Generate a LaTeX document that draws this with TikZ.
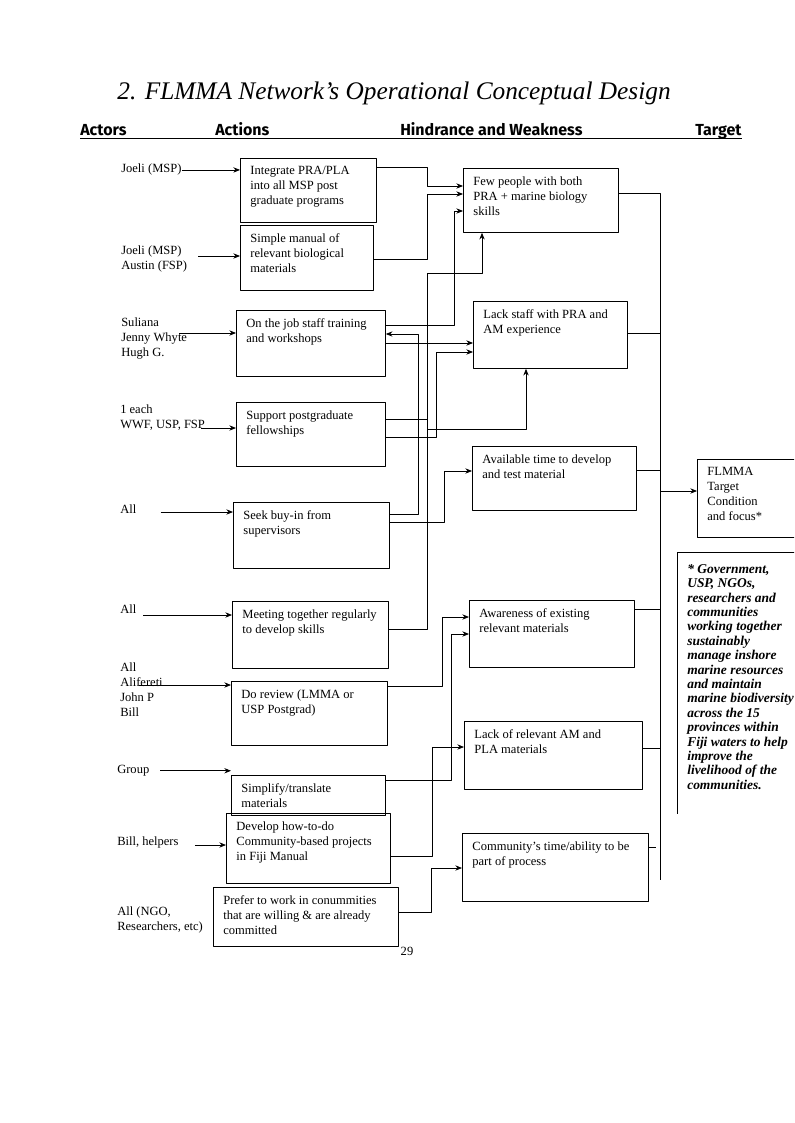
\documentclass[tikz,border=0pt]{standalone}
\usepackage{fontspec}
\setmainfont{Liberation Serif}
\newfontfamily\headfont{Fira Sans}
\usetikzlibrary{arrows.meta}
% box from top-left (x1,y1) to bottom-right (x2,y2), text kept at the top
\newcommand\boxat[6]{%
	\pgfmathsetmacro\bw{0.75*(#4-#2)-15}%
	\pgfmathsetmacro\bh{0.75*(#5-#3)-12}%
	\node[tbox] (#1) at (#2,#3) {\parbox[b][\bh pt][t]{\bw pt}{#6}};}
\begin{document}
\begin{tikzpicture}[x=0.75pt,y=-0.75pt,line join=round,>={Stealth[length=5pt,width=4pt]}]
	\tikzset{every node/.style={font=\fontsize{9.4}{11.25}\selectfont},
		tbox/.style={draw,line width=0.6pt,anchor=north west,inner xsep=7.5pt,inner ysep=6pt},
		actor/.style={anchor=north west,align=left,inner sep=0pt},
		head/.style={anchor=base west,inner sep=0pt,font=\headfont\bfseries\fontsize{12}{14}\selectfont},
		link/.style={line width=0.6pt}}
	\useasboundingbox (0,0) rectangle (794,1123);
	\node[anchor=base,font=\itshape\fontsize{19}{22}\selectfont] (title) at (394,100) {2. FLMMA Network's Operational Conceptual Design};
	%% column heads
	\node[head] (hact) at (80,136) {Actors};
	\node[head] (hacts) at (215,136) {Actions};
	\node[head] (hhind) at (400,136) {Hindrance and Weakness};
	\node[head] (htarg) at (695,136) {Target};
	\draw[line width=0.7pt] ([yshift=-2.2pt]hact.base west) -- ([yshift=-2.2pt]htarg.base east);
	%% actors
	\node[actor] (joeli) at (121,164) {Joeli (MSP)};
	\node[actor] (joelaus) at (121,246) {Joeli (MSP)\\Austin (FSP)};
	\node[actor] (suliana) at (121,318) {Suliana\\Jenny Whyte\\Hugh G.};
	\node[actor] (oneeach) at (120,405) {1 each\\WWF, USP, FSP};
	\node[actor] (allbuy) at (120,505) {All};
	\node[actor] (allmeet) at (120,605) {All};
	\node[actor] (allrev) at (120,663) {All\\Alifereti\\John P\\Bill};
	\node[actor] (group) at (117,765) {Group};
	\node[actor] (billh) at (117,837) {Bill, helpers};
	\node[actor] (allngo) at (117,907) {All (NGO,\\Researchers, etc)};
	%% actions
	\boxat{integ}{240}{158}{376}{222}{Integrate PRA/PLA\\into all MSP post\\graduate programs}
	\boxat{manual}{240}{225}{373}{290}{Simple manual of\\relevant biological\\materials}
	\boxat{train}{236}{310}{385}{376}{On the job staff training\\and workshops}
	\boxat{fellow}{236}{402}{385}{466}{Support postgraduate\\fellowships}
	\boxat{buyin}{233}{502}{389}{568}{Seek buy-in from\\supervisors}
	\boxat{meet}{232}{601}{388}{668}{Meeting together regularly\\to develop skills}
	\boxat{review}{231}{681}{387}{745}{Do review (LMMA or\\USP Postgrad)}
	\boxat{simplify}{231}{775}{385}{815}{Simplify/translate\\materials}
	\boxat{howto}{226}{813}{390}{883}{Develop how-to-do\\Community-based projects\\in Fiji Manual}
	\boxat{prefer}{213}{887}{398}{946}{Prefer to work in conummities\\that are willing \& are already\\committed}
	%% hindrance and weakness
	\boxat{few}{463}{168}{618}{232}{Few people with both\\PRA + marine biology\\skills}
	\boxat{lackstaff}{473}{301}{627}{368}{Lack staff with PRA and\\AM experience}
	\boxat{avail}{472}{446}{636}{510}{Available time to develop\\and test material}
	\boxat{aware}{469}{600}{634}{667}{Awareness of existing\\relevant materials}
	\boxat{lackmat}{464}{721}{642}{789}{Lack of relevant AM and\\PLA materials}
	\boxat{commtime}{462}{833}{648}{901}{Community's time/ability to be\\part of process}
	%% target and note, cut at the page edge
	\begin{scope}
		\clip (0,0) rectangle (794,1123);
		\boxat{target}{697}{459}{830}{537}{FLMMA\\Target\\Condition\\and focus*}
		\node[anchor=north west,inner xsep=7.5pt,inner ysep=9pt,font=\bfseries\itshape\fontsize{10.1}{10.8}\selectfont] (note) at (677,552)
		{\parbox[b][178pt][t]{150pt}{* Government,\\USP, NGOs,\\researchers and\\communities\\working together\\sustainably\\manage inshore\\marine resources\\and maintain\\marine biodiversity\\across the 15\\provinces within\\Fiji waters to help\\improve the\\livelihood of the\\communities.}};
		\draw[link] (note.south west) -- (note.north west) -- (note.north east);
	\end{scope}
	\node (pnum) at (407,951) {29};
	%% actors to actions
	\draw[link,->] (joeli.east) -- (integ.west |- joeli.east);
	\draw[link,->] ([xshift=8pt]joelaus.east |- 0,256) -- (manual.west |- 0,256);
	\draw[link,->] ([xshift=-6pt]suliana.east |- 0,333) -- (train.west |- 0,333);
	\draw[link,->] ([xshift=-3pt]oneeach.east |- 0,428) -- (fellow.west |- 0,428);
	\draw[link,->] ([xshift=18pt]allbuy.east |- 0,512) -- (buyin.west |- 0,512);
	\draw[link,->] ([xshift=5pt]allmeet.east |- 0,615) -- (meet.west |- 0,615);
	\draw[link,->] ([xshift=-18pt]allrev.east |- 0,685) -- (review.west |- 0,685);
	\draw[link,->] ([xshift=8pt]group.east) -- (simplify.north west |- group.east);
	\draw[link,->] ([xshift=12pt]billh.east |- 0,845) -- (howto.west |- 0,845);
	%% actions to hindrance
	\draw[link,->] (integ.east |- 0,167) -- (427,167) |- (few.west |- 0,186);
	\draw[link,->] (manual.east |- 0,259) -- (427,259) |- (few.west |- 0,194);
	\draw[link,->] (train.east |- 0,325) -- (454,325) |- (few.west |- 0,211);
	\draw[link,->] (train.east |- 0,343) -- (lackstaff.west |- 0,343);
	\draw[link,->] (buyin.east |- 0,514) -- (418,514) |- (train.east |- 0,334);
	\draw[link,->] (fellow.east |- 0,437) -- (436,437) |- (lackstaff.west |- 0,352);
	\draw[link,->] (fellow.east |- 0,419) -- (427,419) |- (526,429) -- (lackstaff.south -| 526,0);
	\draw[link,->] (buyin.east |- 0,522) -- (444,522) |- (avail.west |- 0,471);
	\draw[link,->] (meet.east |- 0,629) -- (427,629) -- (427,273) -- (482,273) -- (few.south -| 482,0);
	\draw[link,->] (review.east |- 0,686) -- (442,686) |- (aware.west |- 0,617);
	\draw[link,->] (simplify.east |- 0,780) -- (451,780) |- (aware.west |- 0,634);
	\draw[link,->] (howto.east |- 0,856) -- (432,856) |- (lackmat.west |- 0,747);
	\draw[link,->] (prefer.east |- 0,912) -- (431,912) |- (commtime.west |- 0,868);
	%% hindrance to target
	\coordinate (bustop) at (660,193);
	\coordinate (busend) at (660,880);
	\draw[link] (few.east |- bustop) -- (bustop) -- (busend);
	\foreach \n/\y in {lackstaff/333,avail/470,aware/609,lackmat/748}
	\draw[link] (\n.east |- 0,\y) -- (bustop |- 0,\y);
	\draw[link] (commtime.east |- 0,847) -- (656,847);
	\draw[link,->] (bustop |- 0,491) -- (target.west |- 0,491);
\end{tikzpicture}
\end{document}
